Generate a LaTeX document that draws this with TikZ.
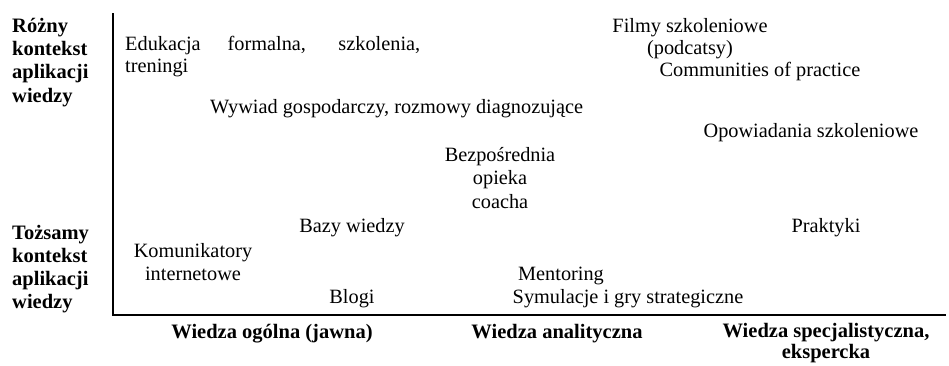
\documentclass[tikz,border=0pt]{standalone}
\usepackage{fontspec}
\setmainfont{Liberation Serif}
\begin{document}
\begin{tikzpicture}[x=1pt,y=-1pt,
  item/.style={inner sep=0pt, font=\fontsize{20.3}{23.5}\selectfont, align=center},
  axlab/.style={inner sep=0pt, font=\fontsize{20.5}{23.3}\selectfont\bfseries, align=left},
  botlab/.style={inner sep=0pt, font=\fontsize{20.5}{21}\selectfont\bfseries, align=center},
  axisline/.style={line width=1.1pt}]
\useasboundingbox (0,0) rectangle (949,365);
% axes
\coordinate (top) at (113,13);
\coordinate (orig) at (113,315);
\coordinate (rgt) at (946,315);
\draw[axisline] (top) -- (orig) -- (rgt);
% vertical axis labels (anchor = baseline of last line)
\node[axlab, anchor=base west] (rozny) at (12,102) {Różny\\kontekst\\aplikacji\\wiedzy};
\node[axlab, anchor=base west, font=\fontsize{20.5}{22.7}\selectfont\bfseries] (tozsamy) at (12,308) {Tożsamy\\kontekst\\aplikacji\\wiedzy};
% horizontal axis labels
\node[botlab, anchor=base] (ogolna) at (272,338) {Wiedza ogólna (jawna)};
\node[botlab, anchor=base] (analit) at (557,338) {Wiedza analityczna};
\node[botlab, anchor=base] (spec) at (826,358) {Wiedza specjalistyczna,\\ekspercka};
% items
\node[item, anchor=base west, align=left, font=\fontsize{20.3}{22.5}\selectfont] (edu) at (125,72.5) {\makebox[295pt][s]{Edukacja formalna, szkolenia,}\\treningi};
\node[item, anchor=base west] (wywiad) at (210,113) {Wywiad gospodarczy, rozmowy diagnozujące};
\node[item, anchor=base] (filmy) at (690,32) {Filmy szkoleniowe};
\node[item, anchor=base] (podcast) at (690,54) {(podcatsy)};
\node[item, anchor=base] (commun) at (760,76) {Communities of practice};
\node[item, anchor=base] (opow) at (811,137) {Opowiadania szkoleniowe};
\node[item, anchor=base] (bezp) at (500,208) {Bezpośrednia\\opieka\\coacha};
\node[item, anchor=base] (bazy) at (352,232) {Bazy wiedzy};
\node[item, anchor=base] (prakt) at (826,232) {Praktyki};
\node[item, anchor=base, font=\fontsize{20.3}{23}\selectfont] (komun) at (193,280) {Komunikatory\\internetowe};
\node[item, anchor=base] (mentor) at (561,280) {Mentoring};
\node[item, anchor=base] (blogi) at (352,303) {Blogi};
\node[item, anchor=base] (symul) at (628,303) {Symulacje i gry strategiczne};
\end{tikzpicture}
\end{document}
